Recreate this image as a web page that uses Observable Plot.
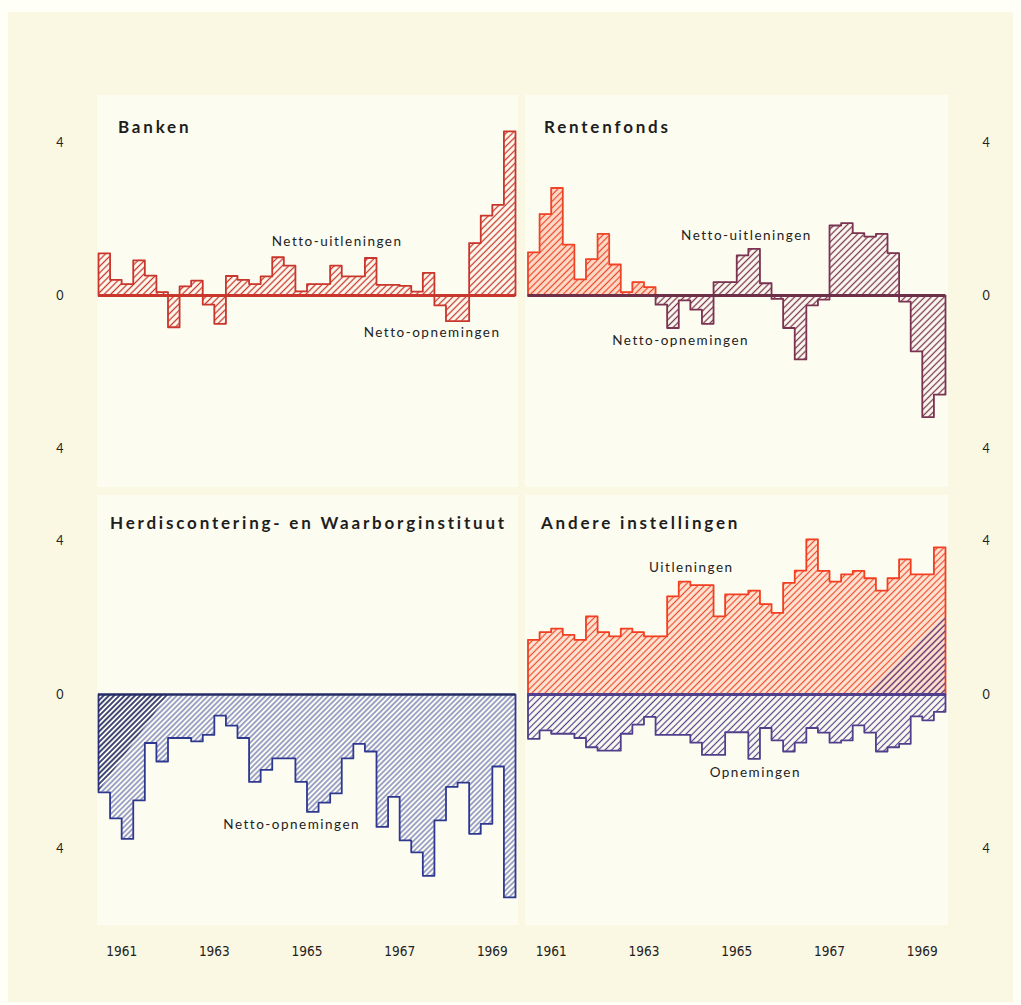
<!DOCTYPE html>
<html><head><meta charset="utf-8">
<script src="https://cdn.jsdelivr.net/npm/d3@7"></script>
<script src="https://cdn.jsdelivr.net/npm/@observablehq/plot@0.6"></script>
<style>
body{margin:0;background:#fffef7;width:1021px;height:1005px;position:relative;overflow:hidden;font-family:Lato,"Open Sans",sans-serif}
#page{position:absolute;left:8px;top:12px;width:1005px;height:990px;background:#faf8e2}
.panel{position:absolute;background:#fdfcf1}
.chart{position:absolute}
.title{position:absolute;font-family:Lato,sans-serif;font-weight:700;font-size:17px;letter-spacing:2.8px;color:#1e1e1e;line-height:20px;white-space:nowrap}
</style></head><body>
<div id="page"></div>
<svg width="0" height="0" style="position:absolute"><defs>
<pattern id="hBanken" patternUnits="userSpaceOnUse" width="4.6" height="4.6" patternTransform="rotate(45)"><line x1="2.3" y1="0" x2="2.3" y2="4.6" stroke="#c9362c" stroke-width="1.3"/></pattern>
<pattern id="hRentRed" patternUnits="userSpaceOnUse" width="4.6" height="4.6" patternTransform="rotate(45)"><rect width="4.6" height="4.6" fill="#fcdcc8"/><line x1="2.3" y1="0" x2="2.3" y2="4.6" stroke="#f04428" stroke-width="1.2"/></pattern>
<pattern id="hRentMar" patternUnits="userSpaceOnUse" width="4.6" height="4.6" patternTransform="rotate(45)"><line x1="2.3" y1="0" x2="2.3" y2="4.6" stroke="#7a3350" stroke-width="1.3"/></pattern>
<pattern id="hHerd" patternUnits="userSpaceOnUse" width="3.7" height="3.7" patternTransform="rotate(45)"><line x1="1.85" y1="0" x2="1.85" y2="3.7" stroke="#4450a3" stroke-width="1.0"/></pattern>
<pattern id="hHerdDark" patternUnits="userSpaceOnUse" width="3.7" height="3.7" patternTransform="rotate(45)"><line x1="1.85" y1="0" x2="1.85" y2="3.7" stroke="#1d2352" stroke-width="1.3"/></pattern>
<pattern id="hAndRed" patternUnits="userSpaceOnUse" width="4.6" height="4.6" patternTransform="rotate(45)"><rect width="4.6" height="4.6" fill="#fde5d4"/><line x1="2.3" y1="0" x2="2.3" y2="4.6" stroke="#f24a2c" stroke-width="1.2"/></pattern>
<pattern id="hAndPur" patternUnits="userSpaceOnUse" width="4.6" height="4.6" patternTransform="rotate(45)"><line x1="2.3" y1="0" x2="2.3" y2="4.6" stroke="#4f3f8c" stroke-width="1.2"/></pattern>
</defs></svg>
<script>
// ---- data (quarterly, 1961 Q1 .. 1969 Q4) ----
const years = [1961, 1962, 1963, 1964, 1965, 1966, 1967, 1968, 1969];
const yearTicks = [1961, 1963, 1965, 1967, 1969];
const yTicks = [-4, 0, 4];
const titles = ["Banken", "Rentenfonds", "Herdiscontering- en Waarborginstituut", "Andere instellingen"];

const banken = [1.1, 0.41, 0.3, 0.92, 0.52, 0.09, -0.83, 0.24, 0.39, -0.24, -0.74, 0.51,
  0.41, 0.3, 0.5, 1.0, 0.78, 0.11, 0.3, 0.3, 0.78, 0.5, 0.5, 0.98,
  0.28, 0.28, 0.25, 0.1, 0.59, -0.26, -0.67, -0.67, 1.37, 2.09, 2.37, 4.29];

const rentenfonds = [1.13, 2.13, 2.81, 1.33, 0.42, 0.95, 1.61, 0.81, 0.09, 0.35, 0.22, -0.24,
  -0.85, -0.13, -0.37, -0.74, 0.35, 0.35, 1.05, 1.22, 0.32, -0.09, -0.85, -1.67,
  -0.26, -0.11, 1.83, 1.89, 1.63, 1.54, 1.61, 1.11, -0.16, -1.46, -3.18, -2.59];
const rentenfondsSplit = 11; // first quarters drawn in red

const herdisc = [-2.54, -3.22, -3.75, -2.75, -1.26, -1.74, -1.13, -1.13, -1.22, -1.05, -0.55, -0.81,
  -1.13, -2.27, -1.96, -1.66, -1.66, -2.27, -3.05, -2.81, -2.57, -1.66, -1.28, -1.48,
  -3.44, -2.66, -3.79, -4.10, -4.71, -3.27, -2.40, -2.29, -3.62, -3.36, -1.87, -5.27];
const herdiscWedgeX = [1961, 1962.52];
const herdiscWedgeY = [-2.54, 0];

const andereUit = [1.42, 1.62, 1.71, 1.55, 1.42, 2.03, 1.62, 1.51, 1.71, 1.62, 1.51, 1.51,
  2.55, 2.93, 2.84, 2.84, 2.03, 2.60, 2.60, 2.70, 2.35, 2.12, 2.90, 3.22,
  4.03, 3.21, 2.93, 3.12, 3.21, 3.02, 2.70, 3.02, 3.51, 3.12, 3.12, 3.82];
const andereOpn = [-1.15, -0.93, -1.02, -1.02, -1.13, -1.37, -1.46, -1.46, -1.02, -0.78, -0.58, -1.05,
  -1.05, -1.05, -1.25, -1.57, -1.57, -0.98, -0.98, -1.67, -0.87, -1.19, -1.48, -1.25,
  -0.87, -0.99, -1.25, -1.19, -0.80, -0.99, -1.48, -1.37, -1.28, -0.57, -0.67, -0.45];
const andereWedgeX = [1968.23, 1970];
const andereWedgeY = [0, 2.0];

// ---- helpers ----
const quarterStarts = years.flatMap(y => [y, y + 0.25, y + 0.5, y + 0.75]);
const END = years[years.length - 1] + 1;

function stepData(values, from = 0, to = values.length) {
  const pts = [];
  for (let i = from; i < to; i++) pts.push({x: quarterStarts[i], v: values[i]});
  const xEnd = to < values.length ? quarterStarts[to] : END;
  const area = [...pts, {x: xEnd, v: values[to - 1]}];
  const outline = [{x: pts[0].x, v: 0}, ...pts, {x: xEnd, v: values[to - 1]}, {x: xEnd, v: 0}];
  return {area, outline};
}
function stepMarks(values, fill, stroke, from, to, sw = 1.8) {
  const d = stepData(values, from, to);
  return [
    Plot.areaY(d.area, {x: "x", y: "v", curve: "step-after", fill}),
    Plot.lineY(d.outline, {x: "x", y: "v", curve: "step-after", stroke, strokeWidth: sw})
  ];
}
function baseline(color, w = 3) {
  return Plot.ruleY([0], {x1: years[0], x2: END, stroke: color, strokeWidth: w});
}
function label(x, y, t) {
  return Plot.text([{x, y, t}], {x: "x", y: "y", text: "t", fontSize: 13.5, fill: "#222", fontFamily: "Lato, sans-serif"});
}

const W = 480;
function opts(side, bottom) {
  return {
    width: W,
    height: bottom ? 475 : 392,
    marginTop: bottom ? 45 : 47,
    marginBottom: bottom ? 122 : 39,
    marginLeft: side === "left" ? 58 : 2.5,
    marginRight: side === "left" ? 5 : 60,
    x: {domain: [years[0], END], label: null},
    y: {domain: [-4, 4], label: null},
    style: {background: "transparent", fontFamily: "Lato, sans-serif", overflow: "visible"}
  };
}
function axes(side, bottom) {
  const m = [];
  m.push(Plot.axisY(yTicks, {anchor: side, tickSize: 0, tickPadding: side === "left" ? 35 : 37, tickFormat: d => Math.abs(d), fontSize: 12.5, fill: "#222", label: null}));
  if (bottom) {
    m.push(Plot.axisX(yearTicks.map(y => y + 0.5), {anchor: "bottom", tickSize: 0, tickPadding: 98, tickFormat: d => String(Math.floor(d)), fontSize: 13.5, fill: "#222", label: null, fontFamily: "'Liberation Sans Narrow', 'DejaVu Sans Condensed', Lato, sans-serif"}));
  } else {
    m.push(Plot.axisX({ticks: [], label: null}));
  }
  return m;
}
function place(svg, left, top) {
  svg.classList.add("chart");
  svg.style.left = left + "px";
  svg.style.top = top + "px";
  svg.querySelectorAll('g[aria-label="text"] text').forEach(t => t.style.letterSpacing = "1.5px");
  document.body.appendChild(svg);
}
function panel(l, t, w, h) {
  const d = document.createElement("div");
  d.className = "panel";
  Object.assign(d.style, {left: l + "px", top: t + "px", width: w + "px", height: h + "px"});
  document.body.appendChild(d);
}
function title(txt, l, t) {
  const d = document.createElement("div");
  d.className = "title";
  d.textContent = txt;
  d.style.left = l + "px"; d.style.top = t + "px";
  document.body.appendChild(d);
}

panel(97, 95, 421, 392);
panel(525, 95, 423, 392);
panel(97, 495, 421, 430);
panel(525, 495, 423, 430);

// Banken
place(Plot.plot({
  ...opts("left", false),
  marks: [
    ...axes("left", false),
    ...stepMarks(banken, "url(#hBanken)", "#c9362c", 0, banken.length, 1.8),
    baseline("#c9362c", 3),
    label(1966.15, 1.41, "Netto-uitleningen"),
    label(1968.2, -0.97, "Netto-opnemingen")
  ]
}), 40, 95);

// Rentenfonds
place(Plot.plot({
  ...opts("right", false),
  marks: [
    ...axes("right", false),
    ...stepMarks(rentenfonds, "url(#hRentRed)", "#f04428", 0, rentenfondsSplit, 1.8),
    ...stepMarks(rentenfonds, "url(#hRentMar)", "#7a3350", rentenfondsSplit, rentenfonds.length, 1.8),
    baseline("#6e3048", 3),
    label(1965.71, 1.57, "Netto-uitleningen"),
    label(1964.29, -1.18, "Netto-opnemingen")
  ]
}), 525, 95);

// Herdiscontering- en Waarborginstituut
place(Plot.plot({
  ...opts("left", true),
  marks: [
    ...axes("left", true),
    ...stepMarks(herdisc, "url(#hHerd)", "#2f3891", 0, herdisc.length, 1.8),
    Plot.areaY(herdiscWedgeX.map((x, i) => ({x, y: herdiscWedgeY[i]})), {x: "x", y1: 0, y2: "y", fill: "url(#hHerdDark)"}),
    baseline("#252c66", 2.6),
    label(1965.17, -3.37, "Netto-opnemingen")
  ]
}), 40, 495);

// Andere instellingen
place(Plot.plot({
  ...opts("right", true),
  marks: [
    ...axes("right", true),
    ...stepMarks(andereUit, "url(#hAndRed)", "#f23f22", 0, andereUit.length, 1.8),
    ...stepMarks(andereOpn, "url(#hAndPur)", "#4f3f8c", 0, andereOpn.length, 1.8),
    Plot.areaY(andereWedgeX.map((x, i) => ({x, y: andereWedgeY[i]})), {x: "x", y1: 0, y2: "y", fill: "url(#hAndPur)"}),
    baseline("#4f3f8c", 3.2),
    label(1964.52, 3.29, "Uitleningen"),
    label(1965.9, -2.03, "Opnemingen")
  ]
}), 525, 495);

title(titles[0], 118, 117);
title(titles[1], 544, 117);
title(titles[2], 110, 513);
title(titles[3], 541, 513);
</script>
</body></html>
